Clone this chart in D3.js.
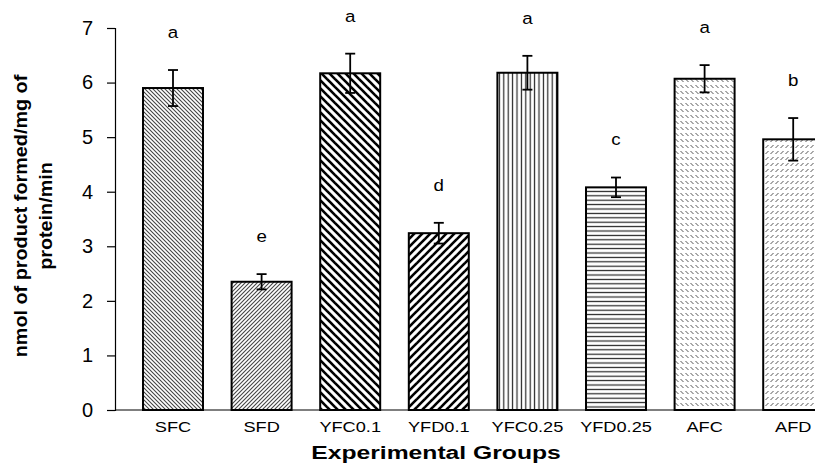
<!DOCTYPE html>
<html>
<head>
<meta charset="utf-8">
<script src="https://cdn.jsdelivr.net/npm/d3@7"></script>
<style>
  body { margin: 0; background: #fff; }
  svg { display: block; font-family: "Liberation Sans", Arial, sans-serif; }
</style>
</head>
<body>
<svg width="815" height="463"></svg>
<script>
// groups, means, error (+/-) and significance letters
var groups = ["SFC", "SFD", "YFC0.1", "YFD0.1", "YFC0.25", "YFD0.25", "AFC", "AFD"];
var means = [5.90, 2.35, 6.17, 3.24, 6.18, 4.08, 6.07, 4.96];
var errors = [0.33, 0.14, 0.36, 0.19, 0.31, 0.18, 0.25, 0.39];
var letters = ["a", "e", "a", "d", "a", "c", "a", "b"];
var yTicks = [0, 1, 2, 3, 4, 5, 6, 7];
var fills = ["p-fine-down", "p-fine-up", "p-wide-down", "p-wide-up", "p-vert", "p-horiz", "p-dash-down", "p-dash-up"];

var svg = d3.select("svg");

// hatch patterns
var defs = svg.append("defs");
function pattern(id, w, h, paths, stroke, sw) {
  var p = defs.append("pattern")
    .attr("id", id)
    .attr("patternUnits", "userSpaceOnUse")
    .attr("width", w)
    .attr("height", h);
  p.append("rect").attr("width", w).attr("height", h).attr("fill", "#fff");
  paths.forEach(function(d) {
    p.append("path").attr("d", d)
      .attr("stroke", stroke).attr("stroke-width", sw).attr("fill", "none");
  });
}
pattern("p-fine-down", 4, 4, ["M-1,-1 L5,5", "M-1,3 L1,5", "M3,-1 L5,1"], "#444", 1.1);
pattern("p-fine-up", 4, 4, ["M-1,5 L5,-1", "M-1,1 L1,-1", "M3,5 L5,3"], "#444", 1.1);
pattern("p-wide-down", 8, 8, ["M-2,-2 L10,10", "M-2,6 L2,10", "M6,-2 L10,2"], "#000", 2.6);
pattern("p-wide-up", 8, 8, ["M-2,10 L10,-2", "M-2,2 L2,-2", "M6,10 L10,6"], "#000", 2.6);
pattern("p-vert", 4.4, 10, ["M2.2,0 L2.2,10"], "#222", 1.2);
pattern("p-horiz", 10, 4.4, ["M0,2.2 L10,2.2"], "#222", 1.2);
pattern("p-dash-down", 5, 6, ["M0.5,1 L3.5,4"], "#555", 1);
pattern("p-dash-up", 5, 6, ["M0.5,4 L3.5,1"], "#555", 1);

var axisX = 115, zeroY = 410, topY = 28;

var x = d3.scaleBand()
  .domain(groups)
  .range([128.7, 837.5])
  .paddingInner(0.323)
  .paddingOuter(0.1615);

var y = d3.scaleLinear()
  .domain([0, 7])
  .range([zeroY, topY]);

// y axis
var yAxis = svg.append("g")
  .attr("transform", "translate(" + axisX + ",0)")
  .call(d3.axisLeft(y).tickValues(yTicks).tickSize(8).tickPadding(14).tickFormat(d3.format("d")));
yAxis.select(".domain").attr("stroke", "#000").attr("stroke-width", 1.2);
yAxis.selectAll(".tick line").attr("stroke", "#000").attr("stroke-width", 1.2);
yAxis.selectAll(".tick text")
  .attr("font-size", 20)
  .attr("fill", "#000")
  .attr("font-family", "Liberation Sans, Arial, sans-serif");

// bars
svg.append("g").selectAll("rect")
  .data(groups)
  .join("rect")
  .attr("x", function(d) { return x(d); })
  .attr("y", function(d, i) { return y(means[i]); })
  .attr("width", x.bandwidth())
  .attr("height", function(d, i) { return y(0) - y(means[i]); })
  .attr("fill", function(d, i) { return "url(#" + fills[i] + ")"; })
  .attr("stroke", "#000")
  .attr("stroke-width", 2);

// x axis line
svg.append("line")
  .attr("x1", axisX).attr("x2", 815)
  .attr("y1", zeroY).attr("y2", zeroY)
  .attr("stroke", "#000").attr("stroke-width", 1.2);

// error bars
var eb = svg.append("g").attr("stroke", "#000").attr("stroke-width", 1.8);
groups.forEach(function(g, i) {
  var cx = x(g) + x.bandwidth() / 2;
  var hi = y(means[i] + errors[i]), lo = y(means[i] - errors[i]);
  eb.append("line").attr("x1", cx).attr("x2", cx).attr("y1", hi).attr("y2", lo);
  eb.append("line").attr("x1", cx - 5).attr("x2", cx + 5).attr("y1", hi).attr("y2", hi);
  eb.append("line").attr("x1", cx - 5).attr("x2", cx + 5).attr("y1", lo).attr("y2", lo);
});

// significance letters
svg.append("g").selectAll("text")
  .data(groups)
  .join("text")
  .attr("transform", function(d, i) {
    return "translate(" + (x(d) + x.bandwidth() / 2) + "," + (y(means[i] + errors[i]) - 38) + ") scale(1.1,1)";
  })
  .attr("dy", "0.35em")
  .attr("text-anchor", "middle")
  .attr("font-size", 17)
  .text(function(d, i) { return letters[i]; });

// category labels
svg.append("g").selectAll("text")
  .data(groups)
  .join("text")
  .attr("transform", function(d) {
    return "translate(" + (x(d) + x.bandwidth() / 2) + ",427) scale(1.3,1)";
  })
  .attr("dy", "0.35em")
  .attr("text-anchor", "middle")
  .attr("font-size", 14)
  .text(function(d) { return d; });

// axis titles
svg.append("text")
  .attr("transform", "translate(436,452) scale(1.3,1)")
  .attr("dy", "0.35em")
  .attr("text-anchor", "middle")
  .attr("font-size", 19)
  .attr("font-weight", "bold")
  .text("Experimental Groups");

var yt = svg.append("text")
  .attr("transform", "translate(0,216) rotate(-90) scale(1.1,1)")
  .attr("text-anchor", "middle")
  .attr("font-size", 18)
  .attr("font-weight", "bold");
yt.append("tspan").attr("x", 0).attr("y", 27).text("nmol of product formed/mg of");
yt.append("tspan").attr("x", 0).attr("y", 52).text("protein/min");
</script>
</body>
</html>
